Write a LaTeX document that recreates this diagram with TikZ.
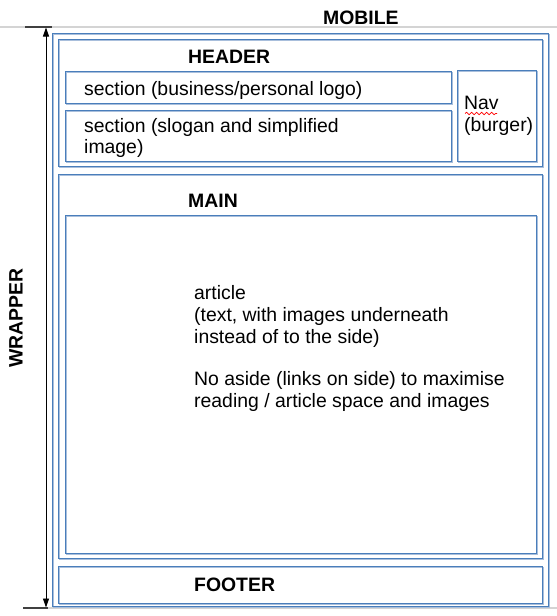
\documentclass[tikz,border=0pt]{standalone}
\usepackage{fontspec}
\setmainfont{Liberation Sans}
\usetikzlibrary{arrows.meta,decorations.pathmorphing,shadows}
\definecolor{boxblue}{HTML}{4A7EBB}
\definecolor{boxpale}{HTML}{A9BFDC}
\definecolor{rulegray}{HTML}{D4D4D4}
\definecolor{tickgray}{HTML}{404040}
\begin{document}
\begin{tikzpicture}[x=1pt,y=-1pt,
  box/.style={draw=boxblue, line width=1.1pt, rectangle, inner sep=0pt, anchor=north west,
    general shadow={shadow xshift=1.2pt, shadow yshift=-1.2pt, draw=boxpale, fill=none, line width=1.3pt}},
  txt/.style={inner sep=0pt, anchor=base west, font=\fontsize{19.4pt}{22pt}\selectfont},
  ttl/.style={txt, font=\fontsize{19.4pt}{22pt}\selectfont\bfseries},
  dimarrow/.style={line width=0.9pt, {Triangle[length=9pt,width=6pt]}-{Triangle[length=9pt,width=6pt]}},
  tick/.style={draw=tickgray, line width=1.2pt},
  guide/.style={draw=rulegray, line width=1.8pt}]
\useasboundingbox (0,0) rectangle (557,616);
% guide lines
\coordinate (gtl) at (0,27);
\coordinate (gtr) at (557,27);
\coordinate (gbl) at (48,608);
\coordinate (gbr) at (557,608);
\draw[guide] (gtl) -- (gtr);
\draw[guide] (gbl) -- (gbr);
% ticks and dimension arrow
\coordinate (ttl1) at (25,27);
\coordinate (ttr1) at (52,27);
\coordinate (tbl1) at (23,608);
\coordinate (tbr1) at (48,608);
\draw[tick] (ttl1) -- (ttr1);
\draw[tick] (tbl1) -- (tbr1);
\coordinate (arrtop) at (46,27.5);
\coordinate (arrbot) at (46,607.5);
\draw[dimarrow] (arrtop) -- (arrbot);
% boxes
\node[box, minimum width=496pt, minimum height=573pt] (wrapper) at (52,33) {};
\node[box, minimum width=484pt, minimum height=127pt] (header) at (58,39) {};
\node[box, minimum width=386pt, minimum height=32pt] (sec1) at (65,71) {};
\node[box, minimum width=386pt, minimum height=51pt] (sec2) at (65,110) {};
\node[box, minimum width=79pt, minimum height=91pt] (nav) at (457,70) {};
\node[box, minimum width=484pt, minimum height=384pt] (main) at (58,174) {};
\node[box, minimum width=471pt, minimum height=338pt] (article) at (65,215) {};
\node[box, minimum width=484pt, minimum height=37pt] (footer) at (58,566) {};
% titles
\node[ttl] (mobile) at (323,24) {MOBILE};
\node[ttl] (headerlbl) at (188,63) {HEADER};
\node[ttl] (mainlbl) at (188,207) {MAIN};
\node[ttl] (footerlbl) at (194,591) {FOOTER};
\node[inner sep=0pt, rotate=90, font=\fontsize{19.4pt}{22pt}\selectfont\bfseries] (wrapperlbl) at (16,318) {WRAPPER};
% texts
\node[txt] (sec1txt) at (84,95) {section (business/personal logo)};
\node[txt] (sec2txta) at (84,132) {section (slogan and simplified};
\node[txt] (sec2txtb) at (84,153) {image)};
\node[txt] (navtxta) at (464,109) {Nav};
\node[txt] (navtxtb) at (464,131) {(burger)};
\coordinate (wavya) at (465,113.5);
\coordinate (wavyb) at (497,113.5);
\draw[red, line width=0.7pt, decorate, decoration={snake, amplitude=1.2pt, segment length=5pt}] (wavya) -- (wavyb);
\node[txt] (art1) at (194,299) {article};
\node[txt] (art2) at (194,321) {(text, with images underneath};
\node[txt] (art3) at (194,343) {instead of to the side)};
\node[txt] (art4) at (194,385.5) {No aside (links on side) to maximise};
\node[txt] (art5) at (194,407.5) {reading / article space and images};
\end{tikzpicture}
\end{document}
